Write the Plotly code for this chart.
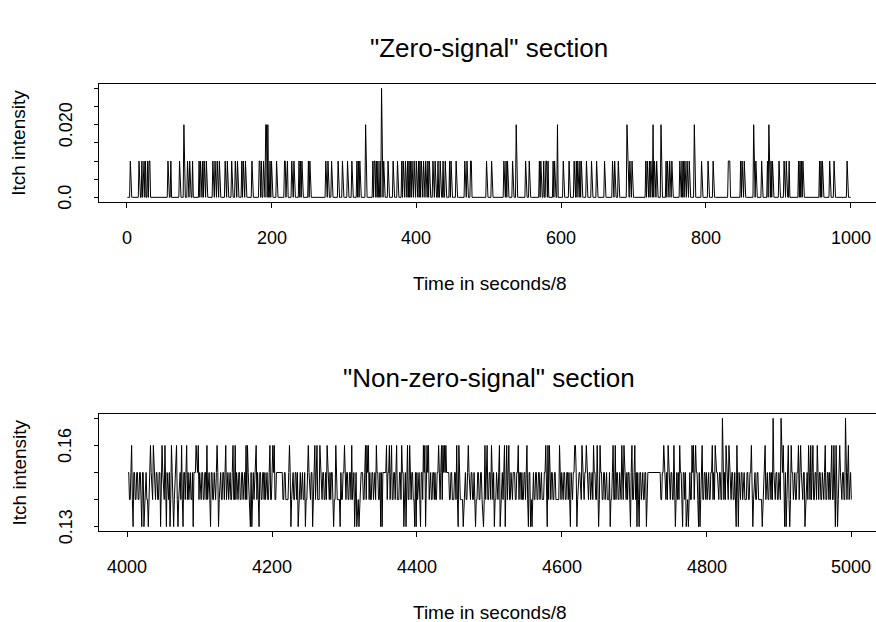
import numpy as np
import plotly.graph_objects as go

# ---------------- data ----------------
# Top panel: "Zero-signal" section, time index 1..1000, mostly 0
zero_n = 1000
zero_lvl1 = [5, 17, 21, 23, 24, 26, 29, 31, 32, 57, 61, 73, 84, 87, 91, 100, 102, 105, 107, 110,
             119, 122, 125, 128, 136, 139, 145, 150, 153, 159, 161, 164, 173, 183, 184, 186, 189,
             198, 200, 207, 218, 219, 221, 222, 228, 231, 238, 240, 242, 251, 253, 275, 278, 283,
             292, 298, 305, 311, 318, 320, 322, 340, 342, 343, 345, 347, 350, 355, 361, 368, 374,
             380, 382, 385, 388, 390, 392, 394, 397, 400, 403, 405, 407, 410, 413, 416, 418, 423,
             426, 430, 433, 437, 440, 446, 448, 455, 467, 470, 475, 476, 497, 504, 521, 524, 526,
             533, 551, 556, 570, 572, 576, 579, 580, 582, 589, 591, 603, 611, 618, 621, 623, 626,
             628, 635, 642, 649, 660, 671, 674, 679, 692, 693, 695, 698, 717, 719, 722, 724, 729,
             732, 745, 747, 750, 753, 764, 767, 769, 771, 774, 777, 794, 803, 810, 831, 832, 833,
             848, 850, 853, 869, 877, 885, 890, 892, 901, 908, 911, 915, 928, 930, 932, 934, 957,
             959, 961, 971, 977, 995]
zero_lvl2 = [79, 192, 193, 195, 330, 538, 595, 691, 727, 738, 784, 866, 887]
zero_lvl3 = [352]
zero_values = {1: 0.01, 2: 0.02, 3: 0.03}

# Bottom panel: "Non-zero-signal" section, time index 4001..5000
# base level digits: '4' = 0.14, '5' = 0.15 (ten points per string)
nz_start = 4001
nz_base_rows = [
    "5544554455", "4455445545", "5544554454", "4554455445", "5445544554",
    "4455544554", "5544455445", "4554544554", "5445455445", "5555555445",
    "4455445545", "4554455445", "4455544554", "4554544554", "5544554454",
    "5445544554", "5544455445", "5445455445", "4455445545", "4554455445",
    "4554455555", "5555445544", "4455544554", "4554544554", "5544554454",
    "5445544554", "5544455445", "5445455445", "4554444444", "4445544554",
    "4455445545", "4554455445", "4455544554", "4554544554", "5544554454",
    "5555555445", "5445544554", "5544455445", "5445455445", "4455445545",
    "4554455445", "4455544554", "4554544554", "4455455555", "5555445544",
    "4554444444", "4444455445", "5544554454", "5445544554", "5544455445",
    "5445455445", "4455445545", "4554455445", "4455544554", "4554544554",
    "5544554454", "5445544554", "5544455445", "5445455445", "5444444445",
    "4455445545", "4554455445", "4455544554", "4554544554", "5544554454",
    "5445544554", "5544455445", "5445455445", "4455445545", "4554455445",
    "4455544554", "5544555555", "5555555555", "5555554455", "4554544554",
    "5544554454", "5445544554", "5544455445", "5445455445", "4455445545",
    "4554455445", "4455544554", "4554544554", "5544554454", "5445544554",
    "5544455445", "5445455445", "5444444445", "4455445545", "4554455445",
    "4455544554", "4554544554", "5544554454", "5445544554", "5544455445",
    "5445455445", "4455445545", "4554455445", "4455544554", "4554544554",
]
nz_up016 = [4006, 4032, 4036, 4048, 4052, 4061, 4068, 4075, 4082, 4095, 4098, 4110, 4124, 4136,
            4146, 4149, 4164, 4166, 4178, 4197, 4201, 4203, 4224, 4250, 4259, 4262, 4266, 4276,
            4288, 4300, 4310, 4329, 4331, 4333, 4344, 4358, 4362, 4365, 4372, 4379, 4387, 4390,
            4409, 4411, 4414, 4416, 4430, 4434, 4436, 4438, 4440, 4455, 4458, 4471, 4494, 4497,
            4503, 4514, 4521, 4524, 4527, 4540, 4552, 4578, 4581, 4583, 4597, 4618, 4619, 4628,
            4634, 4644, 4649, 4653, 4671, 4674, 4683, 4686, 4697, 4701, 4741, 4747, 4755, 4763,
            4780, 4782, 4785, 4794, 4808, 4812, 4827, 4831, 4842, 4862, 4881, 4906, 4913, 4917,
            4927, 4930, 4941, 4944, 4947, 4953, 4964, 4973, 4976, 4979, 4984, 4996]
nz_up017 = [4822, 4892, 4903, 4992]
nz_dn013 = [4008, 4020, 4023, 4029, 4046, 4054, 4059, 4064, 4070, 4077, 4091, 4115, 4126, 4170,
            4172, 4182, 4226, 4236, 4246, 4256, 4285, 4294, 4314, 4317, 4320, 4350, 4352, 4382,
            4385, 4397, 4399, 4405, 4412, 4457, 4464, 4481, 4491, 4492, 4507, 4515, 4522, 4554,
            4557, 4559, 4580, 4612, 4621, 4651, 4667, 4695, 4704, 4707, 4717, 4757, 4767, 4772,
            4775, 4789, 4791, 4841, 4844, 4864, 4877, 4908, 4910, 4915, 4936, 4978, 4981]

top_xticks = [0, 200, 400, 600, 800, 1000]
top_xlabels = ["0", "200", "400", "600", "800", "1000"]
top_yticks = [0.0, 0.005, 0.010, 0.015, 0.020, 0.025, 0.030]
top_ylabels = ["0.0", "", "", "", "0.020", "", ""]
bot_xticks = [4000, 4200, 4400, 4600, 4800, 5000]
bot_xlabels = ["4000", "4200", "4400", "4600", "4800", "5000"]
bot_yticks = [0.13, 0.14, 0.15, 0.16, 0.17]
bot_ylabels = ["0.13", "", "", "0.16", ""]

title_top = '"Zero-signal" section'
title_bot = '"Non-zero-signal" section'
xlab = "Time in seconds/8"
ylab = "Itch intensity"

# ---------------- build series ----------------
zx = np.arange(1, zero_n + 1)
zy = np.zeros(zero_n)
for lvl, idxs in ((1, zero_lvl1), (2, zero_lvl2), (3, zero_lvl3)):
    for t in idxs:
        zy[t - 1] = zero_values[lvl]

nz_base = "".join(nz_base_rows)
nvals = np.array([0.1 + int(c) / 100.0 for c in nz_base])
for lst, v in ((nz_up016, 0.16), (nz_up017, 0.17), (nz_dn013, 0.13)):
    for t in lst:
        i = t - nz_start
        if 0 <= i < len(nvals):
            nvals[i] = v
nx = np.arange(nz_start, nz_start + len(nvals))

# ---------------- figure ----------------
W, H = 876, 622
FONT = "Liberation Sans, Arial, Helvetica, sans-serif"
TICK_SIZE, LAB_SIZE, TITLE_SIZE = 18, 19, 26

fig = go.Figure()
fig.add_trace(go.Scatter(x=zx, y=zy, mode="lines", line=dict(color="black", width=1),
                         xaxis="x", yaxis="y", showlegend=False, hoverinfo="skip"))
fig.add_trace(go.Scatter(x=nx, y=nvals, mode="lines", line=dict(color="black", width=1),
                         xaxis="x2", yaxis="y2", showlegend=False, hoverinfo="skip"))

left_px = 98.7
xdom = [left_px / W, 1.0]
px_per = 0.724
top_x0 = 126.7
bot_x0 = 127.3
top_xr = [(left_px - top_x0) / px_per, (W - top_x0) / px_per]
bot_xr = [4000 + (left_px - bot_x0) / px_per, 4000 + (W - bot_x0) / px_per]

panels = [  # box top px, box bottom px, y range
    dict(top=84.0, bot=201.7, yr=[-0.0012, 0.0312]),
    dict(top=414.0, bot=531.0, yr=[0.1284, 0.1716]),
]

def ydom(p):
    return [1 - p["bot"] / H, 1 - p["top"] / H]

axis_common = dict(showgrid=False, zeroline=False, showline=True, linecolor="black",
                   linewidth=1, ticks="outside", tickcolor="black", tickwidth=1,
                   showticklabels=False)

fig.update_layout(
    width=W, height=H, margin=dict(l=0, r=0, t=0, b=0),
    paper_bgcolor="white", plot_bgcolor="white",
    font=dict(family=FONT, color="black"),
    xaxis=dict(domain=xdom, range=top_xr, tickvals=top_xticks, anchor="y", mirror=True,
               ticklen=5, **axis_common),
    yaxis=dict(domain=ydom(panels[0]), range=panels[0]["yr"], tickvals=top_yticks,
               anchor="x", ticklen=4, **axis_common),
    xaxis2=dict(domain=xdom, range=bot_xr, tickvals=bot_xticks, anchor="y2", mirror=True,
                ticklen=5, **axis_common),
    yaxis2=dict(domain=ydom(panels[1]), range=panels[1]["yr"], tickvals=bot_yticks,
                anchor="x2", ticklen=4, **axis_common),
)

ann = []
# tick labels placed like R's axis(): centred ~36px below the box / ~33px left of it
for xref, yref, p, xt, xl, yt, yl in (("x", "y", panels[0], top_xticks, top_xlabels, top_yticks, top_ylabels),
                                      ("x2", "y2", panels[1], bot_xticks, bot_xlabels, bot_yticks, bot_ylabels)):
    for v, s in zip(xt, xl):
        ann.append(dict(text=s, x=v, xref=xref, y=1 - (p["bot"] + 36.2) / H, yref="paper",
                        showarrow=False, xanchor="center", yanchor="middle",
                        font=dict(family=FONT, size=TICK_SIZE, color="black")))
    for v, s in zip(yt, yl):
        if s:
            ann.append(dict(text=s, x=65.5 / W, xref="paper", y=v, yref=yref, textangle=-90,
                            showarrow=False, xanchor="center", yanchor="middle",
                            font=dict(family=FONT, size=TICK_SIZE, color="black")))

cx = 489 / W
for txt, vy, size in ((title_top, 48, TITLE_SIZE), (title_bot, 378, TITLE_SIZE),
                      (xlab, 283, LAB_SIZE), (xlab, 612, LAB_SIZE)):
    ann.append(dict(text=txt, x=cx, y=1 - vy / H, xref="paper", yref="paper",
                    showarrow=False, xanchor="center", yanchor="middle",
                    font=dict(family=FONT, size=size, color="black")))
for p in panels:
    ann.append(dict(text=ylab, x=19 / W, y=1 - (p["top"] + p["bot"]) / 2 / H, xref="paper",
                    yref="paper", showarrow=False, xanchor="center", yanchor="middle",
                    textangle=-90, font=dict(family=FONT, size=LAB_SIZE, color="black")))
fig.update_layout(annotations=ann)

page_css = ("document.body.style.margin='0';"
            "document.body.style.overflow='hidden';"
            "document.documentElement.style.overflow='hidden';")
fig.write_html("out.html", post_script=page_css, config={"displayModeBar": False})
